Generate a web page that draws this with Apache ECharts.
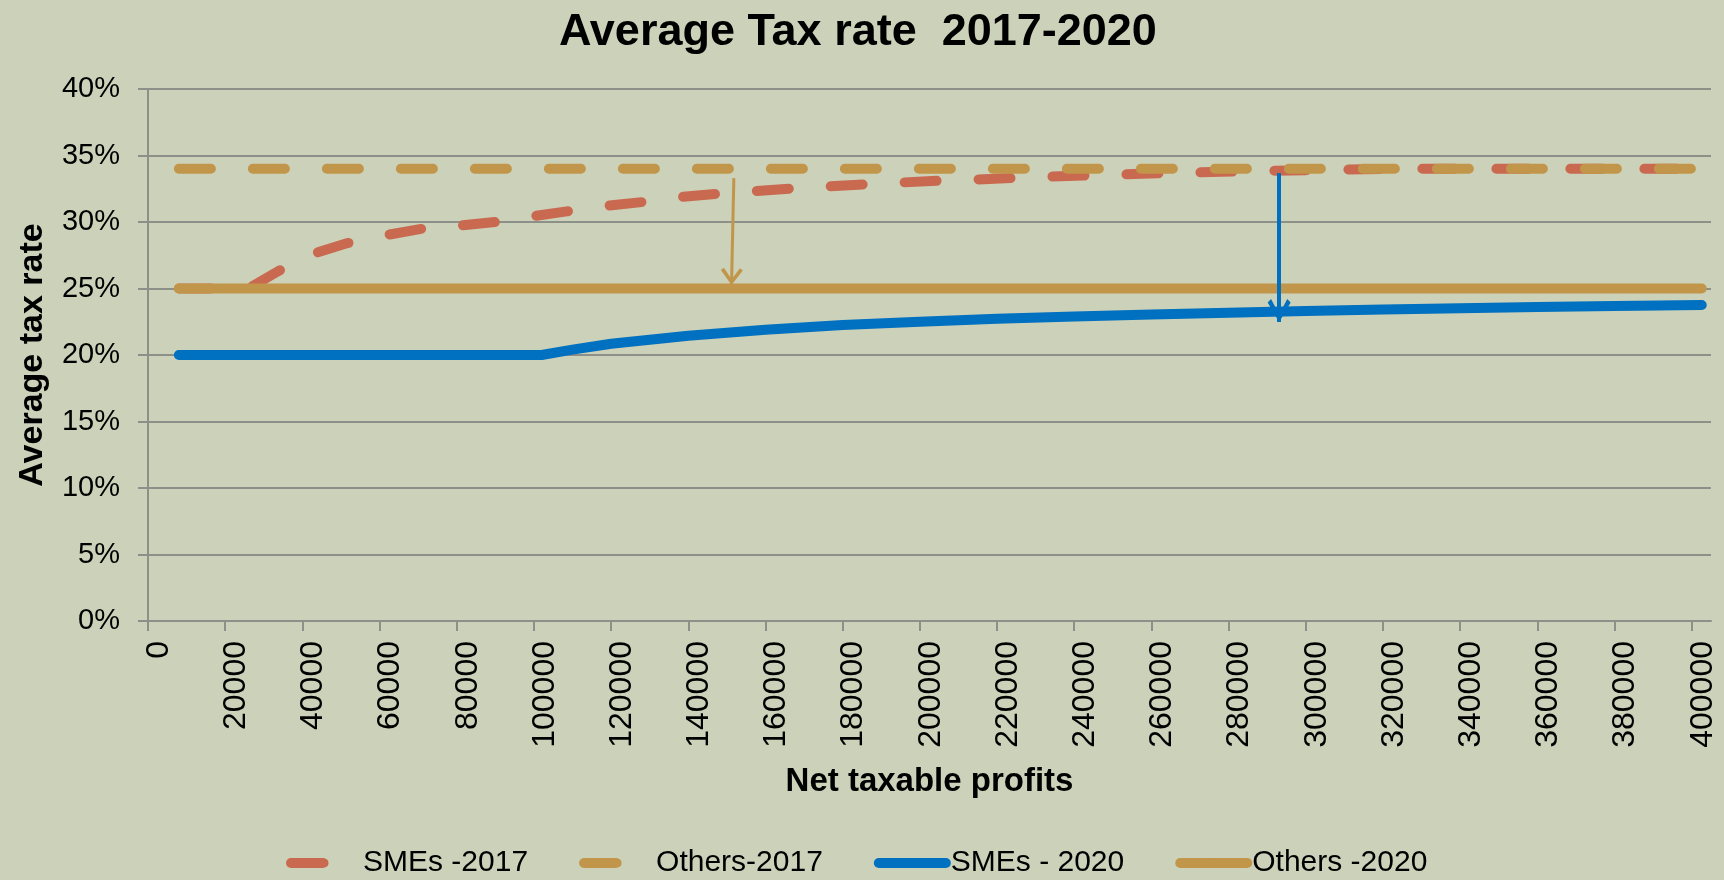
<!DOCTYPE html>
<html><head><meta charset="utf-8">
<script src="https://cdn.jsdelivr.net/npm/echarts@6/dist/echarts.min.js"></script>
<style>html,body{margin:0;padding:0;background:#CCD1B9;} #c{width:1724px;height:880px;}</style>
</head><body><div id="c"></div>
<script>
// ---- data ----
const xTicks = [0, 20000, 40000, 60000, 80000, 100000, 120000, 140000, 160000, 180000, 200000,
  220000, 240000, 260000, 280000, 300000, 320000, 340000, 360000, 380000, 400000];

const smes2017X = [8000, 26000, 33700, 42700, 51500, 61400, 71200, 80000, 89900, 99000, 108500,
  118300, 128100, 136800, 147000, 155800, 166200, 174900, 185300, 194000, 204400, 213100, 223500,
  232100, 242500, 251300, 261700, 270700, 281000, 290200, 300000, 310000, 322500, 402600];
const smes2017Y = [25.0, 25.0, 26.3, 27.6, 28.4, 29.0, 29.5, 29.7, 30.0, 30.4, 30.8,
  31.2, 31.5, 31.85, 32.1, 32.3, 32.5, 32.65, 32.83, 32.95, 33.1, 33.18, 33.3,
  33.4, 33.5, 33.56, 33.66, 33.72, 33.8, 33.85, 33.9, 33.95, 34.0, 34.0];

const others2017X = [8000, 402600];
const others2017Y = [34.0, 34.0];

const smes2020X = [8000, 102000, 110000, 120000, 140000, 160000, 180000, 200000, 220000, 240000,
  260000, 280000, 300000, 320000, 340000, 360000, 380000, 402600];
const smes2020Y = [20.0, 20.0, 20.4, 20.85, 21.45, 21.9, 22.25, 22.5, 22.72, 22.9,
  23.05, 23.18, 23.3, 23.42, 23.52, 23.6, 23.68, 23.76];

const others2020X = [8000, 402600];
const others2020Y = [25.0, 25.0];

// arrows (data units): [x, y]
const arrowOthersFrom = [151800, 33.3];
const arrowOthersTo = [151200, 25.26];
const arrowSmesFrom = [293100, 33.68];
const arrowSmesTo = [293100, 22.48];

const seriesNames = ['SMEs -2017', 'Others-2017', 'SMEs - 2020', 'Others -2020'];

// ---- styles ----
const FONT = "'Liberation Sans', Arial, Helvetica, sans-serif";
const BG = '#CCD1B9';
const GRID = '#8D8F89';
const RED = '#C96A50';
const ORANGE = '#C1964A';
const BLUE = '#0070C0';

function zip(xs, ys) { return xs.map((x, i) => [x, ys[i]]); }

const headOrange = 'path://M11,0 L11.01,0 Z M11,17 L22,31.8 L19,34 L11,22.8 L3,34 L0,31.8 Z';
const headBlue = 'path://M11.5,0 L11.51,0 Z M11.5,23 L23,42.6 L19.6,46 L11.5,30.5 L3.4,46 L0,42.6 Z';

const chart = echarts.init(document.getElementById('c'), null, {renderer: 'canvas'});
const option = {
  backgroundColor: BG,
  animation: false,
  title: {
    text: 'Average Tax rate  2017-2020',
    left: 559, top: 10, padding: 0,
    textStyle: {fontFamily: FONT, fontSize: 45, fontWeight: 'bold', color: '#000'}
  },
  grid: {left: 148, right: 13, top: 89, bottom: 259, containLabel: false, outerBoundsMode: 'none'},
  xAxis: {
    type: 'value', min: 0, max: 405000,
    name: 'Net taxable profits', nameLocation: 'middle', nameGap: 144, nameMoveOverlap: false,
    nameTextStyle: {fontFamily: FONT, fontSize: 33, fontWeight: 'bold', color: '#000'},
    axisLine: {show: true, onZero: false, lineStyle: {color: GRID, width: 2}},
    axisTick: {show: true, length: 10, inside: false, customValues: xTicks, lineStyle: {color: GRID, width: 2}},
    axisLabel: {customValues: xTicks, rotate: 90, margin: 20, fontFamily: FONT, fontSize: 32, color: '#000',
      formatter: (v) => String(v), verticalAlign: 'top', lineHeight: 22, hideOverlap: false},
    splitLine: {show: false}
  },
  yAxis: {
    type: 'value', min: 0, max: 40, interval: 5,
    name: 'Average tax rate', nameLocation: 'middle', nameGap: 98, nameMoveOverlap: false,
    nameTextStyle: {fontFamily: FONT, fontSize: 34, fontWeight: 'bold', color: '#000'},
    axisLine: {show: true, lineStyle: {color: GRID, width: 2}},
    axisTick: {show: true, length: 10, lineStyle: {color: GRID, width: 2}},
    axisLabel: {formatter: '{value}%', margin: 28, fontFamily: FONT, fontSize: 29, color: '#000'},
    splitLine: {show: true, lineStyle: {color: GRID, width: 2}}
  },
  legend: {
    left: 286, top: 848, padding: 0, itemWidth: 67, itemHeight: 10, itemGap: 51,
    textStyle: {fontFamily: FONT, fontSize: 30, color: '#000'},
    lineStyle: {width: 10},
    data: [
      {name: seriesNames[0], lineStyle: {type: [32, 300]}},
      {name: seriesNames[1], lineStyle: {type: [32, 300]}},
      {name: seriesNames[2]},
      {name: seriesNames[3]}
    ]
  },
  series: [
    {name: seriesNames[0], type: 'line', symbol: 'none', data: zip(smes2017X, smes2017Y),
      itemStyle: {color: RED},
      lineStyle: {color: RED, width: 10, type: [32, 42], cap: 'round', join: 'round'}},
    {name: seriesNames[1], type: 'line', symbol: 'none', data: zip(others2017X, others2017Y),
      itemStyle: {color: ORANGE},
      lineStyle: {color: ORANGE, width: 10, type: [32, 42], cap: 'round', join: 'round'}},
    {name: seriesNames[2], type: 'line', symbol: 'none', data: zip(smes2020X, smes2020Y),
      itemStyle: {color: BLUE},
      lineStyle: {color: BLUE, width: 10, type: 'solid', cap: 'round', join: 'round'}},
    {name: seriesNames[3], type: 'line', symbol: 'none', data: zip(others2020X, others2020Y),
      itemStyle: {color: ORANGE},
      lineStyle: {color: ORANGE, width: 10, type: 'solid', cap: 'round', join: 'round'},
      markLine: {
        silent: true, animation: false,
        symbol: ['none', 'none'],
        label: {show: false},
        emphasis: {disabled: true},
        data: [
          [
            {coord: arrowOthersFrom, symbol: 'none', lineStyle: {color: ORANGE, width: 3, type: 'solid'}},
            {coord: arrowOthersTo, symbol: headOrange, symbolSize: [22, 34], lineStyle: {color: ORANGE, width: 3, type: 'solid'}}
          ],
          [
            {coord: arrowSmesFrom, symbol: 'none', lineStyle: {color: BLUE, width: 4, type: 'solid'}},
            {coord: arrowSmesTo, symbol: headBlue, symbolSize: [23, 46], lineStyle: {color: BLUE, width: 4, type: 'solid'}}
          ]
        ]
      }}
  ]
};
chart.setOption(option);
</script></body></html>
